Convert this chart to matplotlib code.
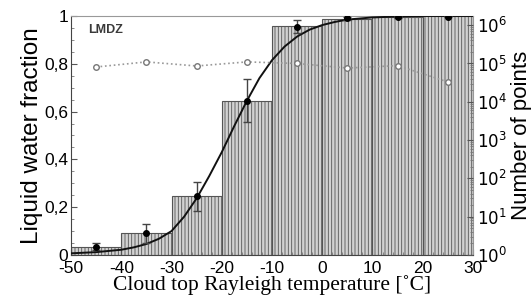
import matplotlib
matplotlib.use("Agg")
import matplotlib.pyplot as plt
import numpy as np
from matplotlib.ticker import FuncFormatter, MultipleLocator, LogLocator

# bins of cloud top temperature
bin_edges = [-50, -40, -30, -20, -10, 0, 10, 20, 30]
bar_heights = [0.033, 0.09, 0.245, 0.645, 0.957, 0.987, 0.997, 0.999]

# black dots (bin centres) with error bars
dot_t = [-45, -35, -25, -15, -5, 5, 15, 25]
dot_frac = [0.035, 0.09, 0.245, 0.645, 0.955, 0.99, 0.997, 0.997]
dot_err = [0.015, 0.04, 0.06, 0.09, 0.028, 0.005, 0.004, 0.003]

# number of points (right log axis)
npts = [8.1e4, 1.1e5, 8.6e4, 1.1e5, 1.0e5, 7.6e4, 8.8e4, 3.3e4]

# fitted curve
curve_t = [-50, -45, -40, -37.5, -35, -32.5, -30, -27.5, -25, -22.5, -20,
           -17.5, -15, -12.5, -10, -7.5, -5, -2.5, 0, 2.5, 5, 10, 15, 20, 30]
curve_f = [0.007, 0.012, 0.022, 0.032, 0.046, 0.068, 0.1, 0.16, 0.237, 0.33,
           0.43, 0.54, 0.645, 0.74, 0.815, 0.872, 0.914, 0.943, 0.962, 0.975,
           0.985, 0.994, 0.998, 1.0, 1.0]

plt.rcParams['axes.unicode_minus'] = False
plt.rcParams['hatch.color'] = '#8f8f8f'
plt.rcParams['hatch.linewidth'] = 0.6

fig = plt.figure(figsize=(5.32, 3.0), dpi=100)
ax = fig.add_axes([0.1335, 0.15, 0.7555, 0.7967])

lefts = bin_edges[:-1]
widths = np.diff(bin_edges)
ax.bar(lefts, bar_heights, width=widths, align='edge', facecolor='#d2d2d2',
       edgecolor='#555555', linewidth=0.8, hatch='|||||', zorder=1)

ax.plot(curve_t, curve_f, color='#111111', lw=1.4, zorder=4)
ax.errorbar(dot_t, dot_frac, yerr=dot_err, fmt='o', color='black', ms=4,
            ecolor='#444444', elinewidth=1, capsize=3, capthick=1, zorder=5)

ax.set_xlim(-50, 30)
ax.set_ylim(0, 1)
ax.xaxis.set_major_locator(MultipleLocator(10))
ax.xaxis.set_minor_locator(MultipleLocator(2))
ax.yaxis.set_major_locator(MultipleLocator(0.2))
ax.yaxis.set_minor_locator(MultipleLocator(0.05))

def comma(v, pos):
    if abs(v) < 1e-9:
        return "0"
    if abs(v - 1) < 1e-9:
        return "1"
    return ("%.1f" % v).replace(".", ",")

ax.yaxis.set_major_formatter(FuncFormatter(comma))
ax.tick_params(axis='x', which='major', pad=4)
ax.tick_params(axis='y', which='major', pad=2)
ax.tick_params(axis='both', which='major', direction='in', length=4,
               labelsize=12.5, color='#555555')
ax.tick_params(axis='both', which='minor', direction='in', length=2.5,
               color='#777777')
for lab in ax.get_xticklabels() + ax.get_yticklabels():
    lab.set_fontfamily('Liberation Sans')

ax.set_xlabel("Cloud top Rayleigh temperature [˚C]", family='Liberation Serif',
              fontsize=15.5, labelpad=0)
ax.set_ylabel("Liquid water fraction", family='Liberation Sans', fontsize=17.5,
              labelpad=1)
ax.text(-46.5, 0.93, "LMDZ", family='Liberation Sans', fontsize=9,
        fontweight='bold', color='#3a3a3a')

for s in ['top', 'right']:
    ax.spines[s].set_color('#999999')
ax.spines['left'].set_color('#444444')
ax.spines['bottom'].set_color('#444444')

ax2 = ax.twinx()
ax2.plot(dot_t, npts, linestyle=':', color='#999999', lw=1.2, marker='o',
         ms=4, mfc='white', mec='#777777', mew=1.0, zorder=3)
ax2.set_yscale('log')
ax2.set_ylim(1, 10 ** 6.24)
ax2.yaxis.set_major_locator(LogLocator(base=10, numticks=10))
ax2.yaxis.set_minor_locator(LogLocator(base=10, subs=np.arange(2, 10), numticks=20))
ax2.tick_params(axis='y', which='major', direction='in', length=4,
                labelsize=12, pad=3, color='#555555')
ax2.tick_params(axis='y', which='minor', direction='in', length=2, color='#777777')
ax2.set_ylabel("Number of points", family='Liberation Sans', fontsize=16,
               labelpad=3)
for s in ['top', 'right', 'left', 'bottom']:
    ax2.spines[s].set_visible(False)

fig.savefig("out.png", dpi=100)
